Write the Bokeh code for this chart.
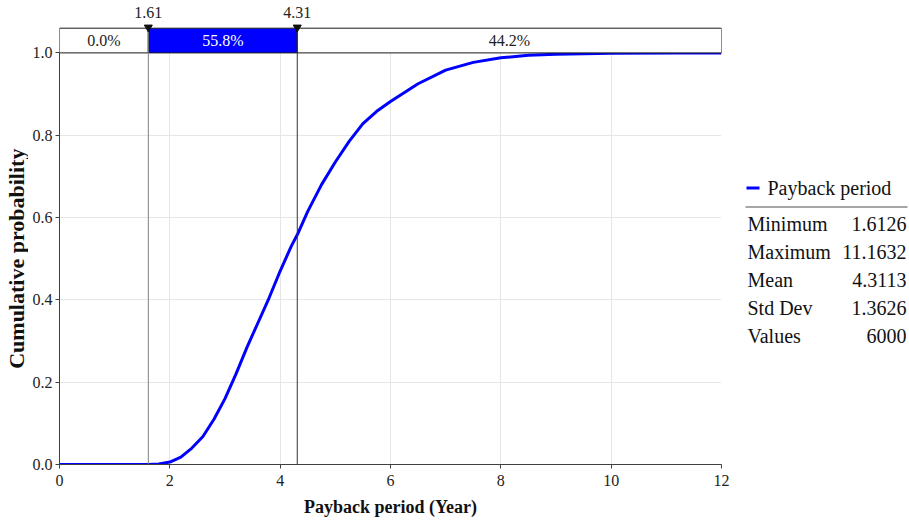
import math

from bokeh.plotting import figure
from bokeh.models import Range1d, FixedTicker, NumeralTickFormatter
from bokeh.layouts import row
from bokeh.embed import file_html
from bokeh.resources import INLINE
from bokeh.core.properties import value

# Cumulative distribution of the simulated payback period
payback_years = [0.0, 1.61, 1.8, 2.0, 2.2, 2.4, 2.6, 2.8, 3.0, 3.2, 3.4, 3.6, 3.8,
                 4.0, 4.2, 4.31, 4.5, 4.75, 5.0, 5.25, 5.5, 5.75, 6.0, 6.5, 7.0,
                 7.5, 8.0, 8.5, 9.0, 10.0, 11.16, 12.0]
cum_prob = [0.0, 0.0, 0.001, 0.006, 0.018, 0.040, 0.068, 0.110, 0.160, 0.220,
            0.285, 0.345, 0.405, 0.470, 0.530, 0.558, 0.615, 0.680, 0.735, 0.785,
            0.828, 0.858, 0.882, 0.925, 0.958, 0.977, 0.988, 0.994, 0.997, 0.999,
            1.0, 1.0]

# Delimiters shown on the top bar and the share of values in each region (%)
delimiters = [1.61, 4.31]
region_pct = [0.0, 55.8, 44.2]

# Summary statistics
series_name = "Payback period"
stat_names = ["Minimum", "Maximum", "Mean", "Std Dev", "Values"]
stat_values = ["1.6126", "11.1632", "4.3113", "1.3626", "6000"]

x_title = "Payback period (Year)"
y_title = "Cumulative probability"
x_ticks = [0, 2, 4, 6, 8, 10, 12]
y_ticks = [0.0, 0.2, 0.4, 0.6, 0.8, 1.0]

FONT = "Liberation Serif"
BLUE = "#0000FF"
X_MAX = 12
BAR_LO, BAR_HI, TOP = 1.0, 1.06, 1.12
STRIP_W = 28

y_range = Range1d(0, TOP)

p = figure(width=730 - STRIP_W, height=521,
           x_range=Range1d(0, X_MAX), y_range=y_range,
           output_backend="svg", toolbar_location=None,
           min_border_left=59 - STRIP_W, min_border_right=9,
           min_border_top=3, min_border_bottom=57)
p.outline_line_color = None

# grid
p.xgrid.ticker = FixedTicker(ticks=x_ticks)
p.ygrid.ticker = FixedTicker(ticks=y_ticks)
p.grid.grid_line_color = "#e6e6e6"
p.grid.grid_line_width = 1

# axes
for ax in (p.xaxis[0], p.yaxis[0]):
    ax.axis_line_color = "#404040"
    ax.major_tick_line_color = "#404040"
    ax.major_tick_out = 4
    ax.major_tick_in = 0
    ax.minor_tick_line_color = None
    ax.major_label_text_font = FONT
    ax.major_label_text_font_size = "16px"
    ax.major_label_text_color = "#222222"
    ax.axis_label_text_font = FONT
    ax.axis_label_text_font_style = "bold"
    ax.axis_label_text_color = "#111111"

p.xaxis.ticker = FixedTicker(ticks=x_ticks)
p.xaxis.major_label_standoff = 6
p.yaxis.ticker = FixedTicker(ticks=y_ticks)
p.yaxis.major_label_standoff = 3
p.yaxis.formatter = NumeralTickFormatter(format="0.0")
p.yaxis.bounds = (0, 1)
p.xaxis.axis_label = x_title
p.xaxis.axis_label_text_font_size = "18px"
p.xaxis.axis_label_standoff = 8

# CDF curve
p.line(payback_years, cum_prob, line_color=BLUE, line_width=3)

# blank strip above the plot for the delimiter bar
p.quad(left=[0], right=[X_MAX], bottom=[BAR_LO], top=[TOP],
       fill_color="white", line_color=None)

# delimiter bar
edges = [0] + delimiters + [X_MAX]
lefts, rights = edges[:-1], edges[1:]
p.quad(left=lefts, right=rights, bottom=BAR_LO, top=BAR_HI,
       fill_color=["white", BLUE, "white"], line_color="#1a1a1a", line_width=1)
p.text(x=[(a + b) / 2 for a, b in zip(lefts, rights)],
       y=[(BAR_LO + BAR_HI) / 2] * len(region_pct),
       text=[f"{v:.1f}%" for v in region_pct],
       text_color=["#222222", "white", "#222222"],
       text_font=value(FONT), text_font_size="16px",
       text_align="center", text_baseline="middle")

# delimiter lines, markers and values
p.segment(x0=delimiters, y0=0, x1=delimiters, y1=BAR_HI,
          line_color=["#808080", "#333333"], line_width=1)
p.scatter(delimiters, [1.062] * len(delimiters), marker="inverted_triangle",
          size=8, color="#111111")
p.text(x=delimiters, y=[1.097] * len(delimiters),
       text=[f"{d:.2f}" for d in delimiters],
       text_color="#222222", text_font=value(FONT), text_font_size="16px",
       text_align="center", text_baseline="middle")

# narrow strip on the left holding the y title, centred on the 0..1 span
title_strip = figure(width=STRIP_W, height=521,
                     x_range=Range1d(0, STRIP_W), y_range=y_range,
                     x_axis_type=None, y_axis_type=None,
                     output_backend="svg", toolbar_location=None,
                     min_border_left=0, min_border_right=0,
                     min_border_top=3, min_border_bottom=57)
title_strip.grid.visible = False
title_strip.outline_line_color = None
title_strip.text(x=[16], y=[0.5], text=[y_title], angle=math.pi / 2,
                 text_color="#111111", text_font=value(FONT),
                 text_font_style="bold", text_font_size="22px",
                 text_align="center", text_baseline="middle")

# side panel: legend entry and summary statistics; its frame shares the
# main plot's vertical extent, so the y range runs over page pixels 3..464
side = figure(width=179, height=521,
              x_range=Range1d(0, 179), y_range=Range1d(464, 3),
              x_axis_type=None, y_axis_type=None,
              output_backend="svg", toolbar_location=None,
              min_border_left=0, min_border_right=0,
              min_border_top=3, min_border_bottom=57)
side.grid.visible = False
side.outline_line_color = None

side.line([16, 29], [187.5, 187.5], line_color=BLUE, line_width=3)
side.text(x=[37], y=[187], text=[series_name], text_color="#111111",
          text_font=value(FONT), text_font_size="20px",
          text_align="left", text_baseline="middle")
side.line([15, 177], [206.5, 206.5], line_color="#a6a6a6", line_width=2)

row_y = [223 + 28 * i for i in range(len(stat_names))]
side.text(x=[17] * len(stat_names), y=row_y, text=stat_names,
          text_color="#111111", text_font=value(FONT), text_font_size="20px",
          text_align="left", text_baseline="middle")
side.text(x=[176] * len(stat_values), y=row_y, text=stat_values,
          text_color="#111111", text_font=value(FONT), text_font_size="20px",
          text_align="right", text_baseline="middle")

layout = row(title_strip, p, side)
open("out.html", "w").write(file_html(layout, INLINE))
